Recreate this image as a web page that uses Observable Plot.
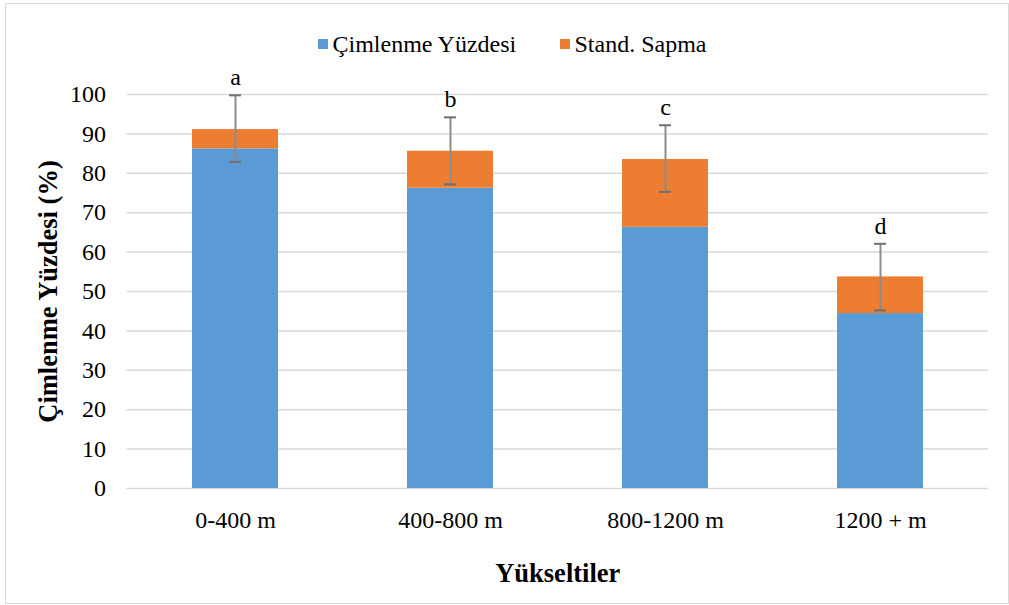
<!DOCTYPE html>
<html>
<head>
<meta charset="utf-8">
<script src="https://cdn.jsdelivr.net/npm/d3@7"></script>
<script src="https://cdn.jsdelivr.net/npm/@observablehq/plot@0.6"></script>
<style>
  html, body { margin: 0; padding: 0; background: #fff; }
  #box {
    position: absolute; left: 5px; top: 3px; width: 1004px; height: 601px;
    box-sizing: border-box; border: 1.5px solid #d9d9d9; background: #fff;
    font-family: "Liberation Serif", "Times New Roman", Times, serif;
  }
  #legend {
    height: 60px; position: relative; font-size: 24px; color: #000;
  }
  .li { position: absolute; top: 26px; display: flex; align-items: center; white-space: nowrap; line-height: 28px; }
  .sw { width: 10px; height: 10px; margin-right: 5px; display: inline-block; }
  #chart svg { display: block; }
  #chart svg, #chart svg text { font-family: "Liberation Serif", "Times New Roman", Times, serif !important; }
  #chart svg g[aria-label="y-axis tick label"] text,
  #chart svg g[aria-label="x-axis tick label"] text { font-size: 24px !important; }
  #chart svg g[aria-label="y-axis label"] text,
  #chart svg g[aria-label="x-axis label"] text { font-size: 26.5px !important; font-weight: bold; }
  #chart svg g[aria-label="text"] text { font-size: 24px !important; }
</style>
</head>
<body>
<div id="box">
  <div id="legend"></div>
  <div id="chart"></div>
</div>
<script>
const categories = ["0-400 m", "400-800 m", "800-1200 m", "1200 + m"];
const germination = [86.2, 76.2, 66.3, 44.4];
const stdSegment = [4.9, 9.4, 17.2, 9.3];
const errLow = [82.9, 77.2, 75.3, 45.2];
const errHigh = [99.8, 94.2, 92.2, 62.1];
const letters = ["a", "b", "c", "d"];
const seriesNames = ["Çimlenme Yüzdesi", "Stand. Sapma"];
const seriesColors = ["#5b9bd5", "#ed7d31"];
const yTicks = [0, 10, 20, 30, 40, 50, 60, 70, 80, 90, 100];

const rows = [];
categories.forEach((c, i) => {
  rows.push({cat: c, series: seriesNames[0], value: germination[i]});
  rows.push({cat: c, series: seriesNames[1], value: stdSegment[i]});
});
const err = categories.map((c, i) => ({cat: c, lo: errLow[i], hi: errHigh[i], letter: letters[i]}));

// legend
const legend = document.getElementById("legend");
const legendX = [311.5, 553.5];
seriesNames.forEach((s, i) => {
  const d = document.createElement("div");
  d.className = "li";
  d.style.left = legendX[i] + "px";
  d.innerHTML = `<span class="sw" style="background:${seriesColors[i]}"></span><span>${s}</span>`;
  legend.appendChild(d);
});

const plot = Plot.plot({
  width: 1001,
  height: 537,
  marginLeft: 120.5,
  marginRight: 19,
  marginTop: 30,
  marginBottom: 113,
  style: {fontSize: "24px", color: "#000", background: "transparent"},
  x: {domain: categories, paddingInner: 0.6, paddingOuter: 0.3, label: null},
  y: {domain: [0, 100], label: null},
  color: {domain: seriesNames, range: seriesColors},
  marks: [
    Plot.gridY(yTicks, {stroke: "#d9d9d9", strokeOpacity: 1, strokeWidth: 1.5}),
    Plot.barY(rows, {x: "cat", y: "value", fill: "series"}),
    Plot.ruleX(err, {x: "cat", y1: "lo", y2: "hi", stroke: "#8c8c8c", strokeWidth: 2}),
    Plot.tickY(err, {x: "cat", y: "lo", stroke: "#6e6e6e", strokeWidth: 2, insetLeft: 37, insetRight: 37}),
    Plot.tickY(err, {x: "cat", y: "hi", stroke: "#6e6e6e", strokeWidth: 2, insetLeft: 37, insetRight: 37}),
    Plot.text(err, {x: "cat", y: "hi", text: "letter", dy: -18, fill: "#000"}),
    Plot.axisY({ticks: yTicks, tickSize: 0, tickPadding: 21,
      label: "Çimlenme Yüzdesi (%)", labelAnchor: "center", labelArrow: "none", labelOffset: 89}),
    Plot.axisX({tickSize: 0, tickPadding: 22, label: "Yükseltiler",
      labelAnchor: "center", labelArrow: "none", labelOffset: 93})
  ]
});
document.getElementById("chart").appendChild(plot);
</script>
</body>
</html>
